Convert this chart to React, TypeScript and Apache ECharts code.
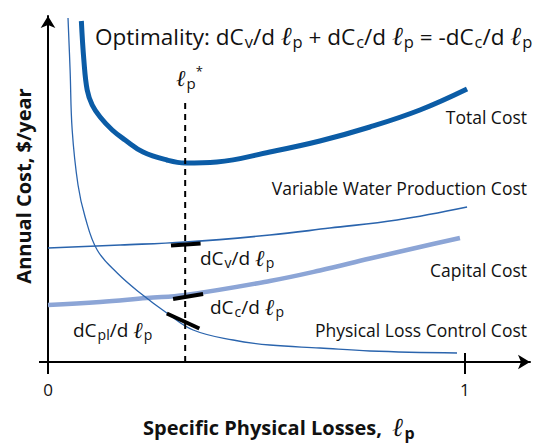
import React, { useEffect, useRef } from "react";
import * as echarts from "echarts";

// Specific physical losses (x, share of 1) and annual cost (y, arbitrary units)
const totalX = [0.080, 0.086, 0.094, 0.106, 0.125, 0.154, 0.185, 0.228, 0.285, 0.329, 0.405, 0.532, 0.652, 0.772, 0.892, 1.005];
const totalY = [341, 302, 272, 257, 245, 232, 222, 210, 202, 199, 200, 210, 221, 235, 252, 273];

const lossCtrlX = [0.048, 0.053, 0.058, 0.072, 0.089, 0.118, 0.166, 0.221, 0.285, 0.348, 0.444, 0.532, 0.652, 0.772, 0.981];
const lossCtrlY = [344, 292, 232, 177, 145, 112, 89, 69, 49, 32, 22, 17, 14, 11, 9];

const waterX = [0, 0.173, 0.329, 0.532, 0.676, 0.837, 1.005];
const waterY = [114, 117, 120, 127, 134, 142, 155];

const capitalX = [0, 0.125, 0.237, 0.329, 0.532, 0.652, 0.772, 0.892, 0.988];
const capitalY = [57, 60, 64, 67, 81, 91.5, 103.5, 115, 124];

const tangentVX = [0.295, 0.366];
const tangentVY = [116.5, 118.5];
const tangentCX = [0.300, 0.372];
const tangentCY = [63, 68];
const tangentPlX = [0.285, 0.363];
const tangentPlY = [48.5, 33.5];

const optimumX = [0.329, 0.329];
const optimumY = [0, 264];

const xTicks = [0, 1];

const zip = (xs: number[], ys: number[]) => xs.map((x, i) => [x, ys[i]]);

const FONT = "Open Sans";
const ELL = { fontFamily: "DejaVu Serif", fontStyle: "italic", fill: "#111" };

export default function App() {
  const ref = useRef<HTMLDivElement>(null);
  useEffect(() => {
    if (!ref.current) return;
    const chart = echarts.init(ref.current, null, { renderer: "svg" });
    const lineSeries = (data: number[][], color: string, width: number, extra: any = {}) => ({
      type: "line",
      data,
      showSymbol: false,
      symbol: "none",
      silent: true,
      lineStyle: { color, width, cap: "butt", ...(extra.lineStyle || {}) },
      smooth: extra.smooth ?? false,
      z: extra.z ?? 2,
    });
    const sub = (size: number, weight: any = "normal") => ({
      fontFamily: FONT, fontSize: size, fontWeight: weight, fill: "#111", padding: [size * 0.7, 0, 0, 1],
    });
    const main = (size: number, weight: any = "normal") => ({ fontFamily: FONT, fontSize: size, fontWeight: weight, fill: "#111" });
    const deriv = (subTxt: string) => `{t|dC}{s|${subTxt}}{t|/d }{l|ℓ}{s|p}`;
    const derivRich = {
      t: main(19), s: sub(14), l: { ...ELL, fontSize: 23 },
    };
    const label = (text: string, x: number, y: number, align = "right") => ({
      type: "text", x, y, silent: true,
      style: { text, fontFamily: FONT, fontSize: 17.5, fill: "#111", textAlign: align, align, textVerticalAlign: "middle", verticalAlign: "middle" },
    });
    const richLabel = (text: string, x: number, y: number, rich: any) => ({
      type: "text", x, y, silent: true,
      style: { text, rich, textAlign: "left", align: "left", textVerticalAlign: "middle", verticalAlign: "middle" },
    });

    chart.setOption({
      animation: false,
      grid: { left: 48, right: 7, top: 16, bottom: 83, containLabel: false },
      xAxis: [
        {
          type: "value", min: 0, max: 1.156,
          axisLine: { show: true, onZero: false, symbol: ["none", "arrow"], symbolSize: [11, 12], lineStyle: { color: "#000", width: 2 } },
          axisTick: { show: true, customValues: xTicks, length: 12, lineStyle: { color: "#000", width: 2 } },
          axisLabel: { show: true, customValues: xTicks, margin: 19, fontSize: 17, fontFamily: FONT, color: "#111", formatter: (v: number) => String(v) },
          splitLine: { show: false },
        },
        {
          type: "value", min: 0, max: 1.156, position: "bottom",
          axisLine: { show: false },
          axisTick: { show: true, inside: true, customValues: [1], length: 9, lineStyle: { color: "#000", width: 2 } },
          axisLabel: { show: false },
          splitLine: { show: false },
        },
      ],
      yAxis: {
        type: "value", min: 0, max: 346,
        axisLine: { show: true, onZero: false, symbol: ["none", "arrow"], symbolSize: [11, 12], lineStyle: { color: "#000", width: 2 } },
        axisTick: { show: true, customValues: [0], length: 9, lineStyle: { color: "#000", width: 2 } },
        axisLabel: { show: false },
        splitLine: { show: false },
      },
      series: [
        lineSeries(zip(capitalX, capitalY), "#8ca5d6", 4.5, { smooth: 0.4 }),
        lineSeries(zip(waterX, waterY), "#2a64ad", 1.7, { smooth: 0.4 }),
        lineSeries(zip(lossCtrlX, lossCtrlY), "#2a64ad", 1.3, { smooth: 0.4 }),
        lineSeries(zip(totalX, totalY), "#0b5ca6", 5, { smooth: 0.4 }),
        lineSeries(zip(optimumX, optimumY), "#000", 2, { lineStyle: { type: [6, 5] }, z: 3 }),
        lineSeries(zip(tangentVX, tangentVY), "#000", 4, { z: 4 }),
        lineSeries(zip(tangentCX, tangentCY), "#000", 4, { z: 4 }),
        lineSeries(zip(tangentPlX, tangentPlY), "#000", 4, { z: 4 }),
      ],
      graphic: [
        richLabel(
          "{t|Optimality: dC}{s|v}{t|/d }{l|ℓ}{s|p}{t| + dC}{s|c}{t|/d }{l|ℓ}{s|p}{t| = -dC}{s|c}{t|/d }{l|ℓ}{s|p}",
          95, 36,
          { t: main(22.5), s: sub(16.5), l: { ...ELL, fontSize: 26 } }
        ),
        richLabel("{l|ℓ}{s|p}{u|*}", 176, 78, {
          l: { ...ELL, fontSize: 23 }, s: sub(15),
          u: { fontFamily: FONT, fontSize: 13, fill: "#111", padding: [0, 0, 14, 0] },
        }),
        label("Total Cost", 527, 117),
        label("Variable Water Production Cost", 527, 188),
        label("Capital Cost", 527, 270),
        label("Physical Loss Control Cost", 527, 330),
        richLabel(deriv("v"), 200, 258, derivRich),
        richLabel(deriv("c"), 210, 307, derivRich),
        richLabel(deriv("pl"), 73, 330, derivRich),
        richLabel("{t|Specific Physical Losses,  }{l|ℓ}{s|p}", 143, 427, {
          t: main(20, "bold"), s: sub(16, "bold"), l: { ...ELL, fontWeight: "bold", fontSize: 26 },
        }),
        {
          type: "text", x: 23, y: 186, rotation: Math.PI / 2, silent: true,
          style: { text: "Annual Cost, $/year", fontFamily: FONT, fontSize: 20, fontWeight: "bold", fill: "#111", textAlign: "center", align: "center", textVerticalAlign: "middle", verticalAlign: "middle" },
        },
      ],
    });
    return () => chart.dispose();
  }, []);
  return <div ref={ref} style={{ width: 537, height: 445, position: "absolute", left: 0, top: 0 }} />;
}
